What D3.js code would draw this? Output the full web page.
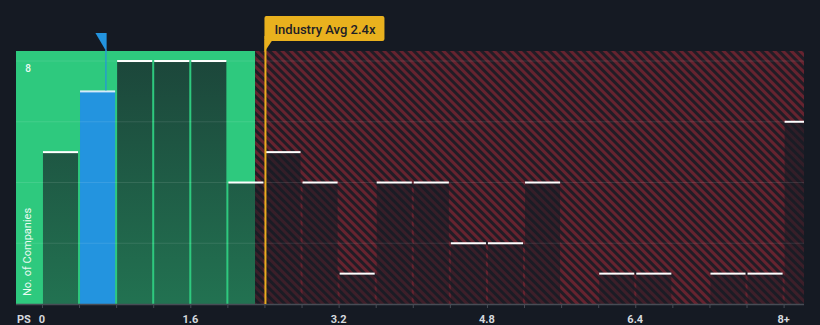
<!DOCTYPE html>
<html>
<head>
<meta charset="utf-8">
<script src="https://cdn.jsdelivr.net/npm/d3@7"></script>
<style>
  html, body { margin: 0; padding: 0; background: #151a23; }
  svg { display: block; font-family: Roboto, "Noto Sans", sans-serif; }
</style>
</head>
<body>
<svg id="chart" width="820" height="325"></svg>
<script>
// ---- data ----
const binStarts = [0, 0.4, 0.8, 1.2, 1.6, 2.0, 2.4, 2.8, 3.2, 3.6, 4.0, 4.4, 4.8, 5.2, 5.6, 6.0, 6.4, 6.8, 7.2, 7.6, 8.0];
const counts    = [5, 7, 8, 8, 8, 4, 5, 4, 1, 4, 4, 2, 2, 4, 0, 1, 1, 0, 1, 1, 6];
const binWidth = 0.4;
const tickValues = [0, 1.6, 3.2, 4.8, 6.4, 8];
const tickLabels = ["0", "1.6", "3.2", "4.8", "6.4", "8+"];
const gridValues = [2, 4, 6, 8];
const companyPS = 0.69;
const industryAvg = 2.4;
const fairLimit = 2.3;
const yAxisLabel = "No. of Companies";
const xAxisLabel = "PS";
const industryLabel = "Industry Avg 2.4x";

// ---- layout ----
const plot = { left: 16, right: 804, top: 51, bottom: 304 };
const x = d3.scaleLinear().domain([-0.28, 8.22]).range([plot.left, plot.right]);
const y = d3.scaleLinear().domain([0, 8.33]).range([plot.bottom, plot.top]);

const svg = d3.select("#chart");
const defs = svg.append("defs");

const pat = defs.append("pattern")
  .attr("id", "hatch").attr("patternUnits", "userSpaceOnUse")
  .attr("width", 6).attr("height", 6)
  .attr("patternTransform", "rotate(-45)");
pat.append("rect").attr("width", 6).attr("height", 6).attr("fill", "#221c25");
pat.append("rect").attr("x", 0).attr("width", 3).attr("height", 6).attr("fill", "#66232f");

const grad = defs.append("linearGradient")
  .attr("id", "barGrad").attr("gradientUnits", "userSpaceOnUse")
  .attr("x1", 0).attr("x2", 0).attr("y1", plot.top).attr("y2", plot.bottom);
grad.append("stop").attr("offset", 0).attr("stop-color", "#161b24").attr("stop-opacity", 0.76);
grad.append("stop").attr("offset", 1).attr("stop-color", "#161b24").attr("stop-opacity", 0.5);

defs.append("clipPath").attr("id", "plotClip")
  .append("rect").attr("x", plot.left).attr("y", plot.top - 2)
  .attr("width", plot.right - plot.left).attr("height", plot.bottom - plot.top + 2);

const g = svg.append("g").attr("clip-path", "url(#plotClip)");

// zones
g.append("rect")
  .attr("x", plot.left).attr("y", plot.top)
  .attr("width", x(fairLimit) - plot.left).attr("height", plot.bottom - plot.top)
  .attr("fill", "#2ec97e");
g.append("rect")
  .attr("x", x(fairLimit)).attr("y", plot.top)
  .attr("width", plot.right - x(fairLimit)).attr("height", plot.bottom - plot.top)
  .attr("fill", "url(#hatch)");

// bars
const bins = binStarts.map((b, i) => ({ start: b, count: counts[i], i }));
const isCompany = d => companyPS >= d.start && companyPS < d.start + binWidth;

g.selectAll("rect.bar").data(bins.filter(d => d.count > 0)).join("rect")
  .attr("class", "bar")
  .attr("x", d => x(d.start) + 1)
  .attr("width", d => x(d.start + binWidth) - x(d.start) - 2)
  .attr("y", d => y(d.count))
  .attr("height", d => y(0) - y(d.count))
  .attr("fill", d => isCompany(d) ? "#2394df" : "url(#barGrad)");

g.selectAll("rect.top").data(bins.filter(d => d.count > 0)).join("rect")
  .attr("class", "top")
  .attr("x", d => x(d.start) + 1)
  .attr("width", d => x(d.start + binWidth) - x(d.start) - 2)
  .attr("y", d => y(d.count) - 1)
  .attr("height", 2)
  .attr("fill", d => isCompany(d) ? "#d6ebfa" : "#ffffff");

// grid lines
g.selectAll("line.grid").data(gridValues).join("line")
  .attr("class", "grid")
  .attr("x1", plot.left).attr("x2", plot.right)
  .attr("y1", d => y(d)).attr("y2", d => y(d))
  .attr("stroke", "#ffffff").attr("stroke-opacity", 0.1).attr("stroke-width", 1);

// y max label
svg.append("text")
  .attr("x", 28).attr("y", y(8) + 11)
  .attr("text-anchor", "middle")
  .attr("font-size", 10).attr("font-weight", 500)
  .attr("fill", "#eafaf2")
  .text(String(gridValues[gridValues.length - 1]));

// y axis title
svg.append("text")
  .attr("transform", `translate(31, ${plot.bottom - 8}) rotate(-90)`)
  .attr("text-anchor", "start")
  .attr("font-size", 11)
  .attr("fill", "#eafaf2")
  .text(yAxisLabel);

// x axis
const allTicks = d3.range(0, 21).map(i => +(i * binWidth).toFixed(1));
const xAxis = d3.axisBottom(x).tickValues(allTicks).tickSize(4).tickFormat("");
const axG = svg.append("g").attr("transform", `translate(0, ${plot.bottom})`).call(xAxis);
axG.select(".domain").attr("d", `M${plot.left},0.5H${plot.right}`).attr("stroke", "#474c55").attr("stroke-width", 1.5);
axG.selectAll(".tick line").attr("stroke", "#474c55");

svg.selectAll("text.xl").data(tickValues).join("text")
  .attr("class", "xl")
  .attr("x", d => x(d))
  .attr("y", 322.5)
  .attr("text-anchor", "middle")
  .attr("font-size", 11).attr("font-weight", 700)
  .attr("fill", "#d5d9de")
  .text((d, i) => tickLabels[i]);

svg.append("text")
  .attr("x", 17).attr("y", 322.5)
  .attr("font-size", 11).attr("font-weight", 700)
  .attr("fill", "#d5d9de")
  .text(xAxisLabel);

// industry average marker
const ix = x(industryAvg) + 1;
svg.append("line")
  .attr("x1", ix).attr("x2", ix).attr("y1", 36).attr("y2", plot.bottom)
  .attr("stroke", "#e9ad1f").attr("stroke-width", 2);
svg.append("rect")
  .attr("x", ix - 1).attr("y", 16).attr("width", 120).attr("height", 25).attr("rx", 2)
  .attr("fill", "#e9b11e");
svg.append("path")
  .attr("d", `M${ix - 1},40 L${ix + 7},40 L${ix - 1},52 Z`)
  .attr("fill", "#e9b11e");
svg.append("text")
  .attr("x", ix + 9).attr("y", 33.5)
  .attr("font-size", 13).attr("font-weight", 500)
  .attr("fill", "#1d2027")
  .text(industryLabel);

// company marker
const cx = x(companyPS);
const cBin = bins.find(isCompany);
svg.append("line")
  .attr("x1", cx).attr("x2", cx).attr("y1", 50).attr("y2", y(cBin.count) - 1)
  .attr("stroke", "#2394df").attr("stroke-width", 1.2);
svg.append("path")
  .attr("d", `M${cx - 10.5},33 L${cx + 0.7},33 L${cx + 0.7},52 Z`)
  .attr("fill", "#2394df");
</script>
</body>
</html>
